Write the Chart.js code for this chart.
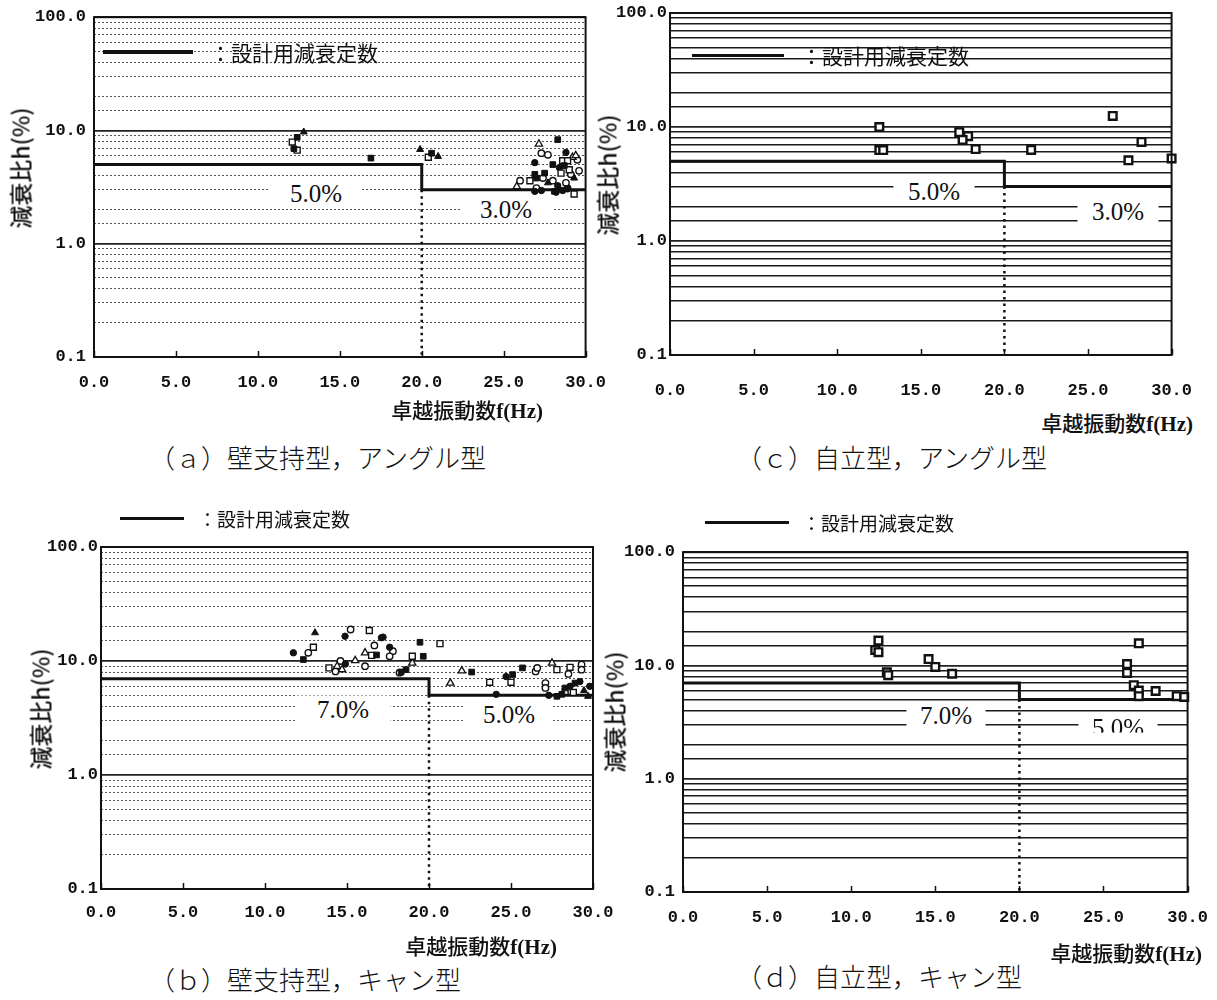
<!DOCTYPE html>
<html lang="ja">
<head>
<meta charset="utf-8">
<title>減衰比と卓越振動数</title>
<script src="https://cdn.jsdelivr.net/npm/chart.js@4.4.1/dist/chart.umd.min.js"></script>
<style>
  html, body { margin:0; padding:0; background:#fff; }
  #stage { position:relative; width:1217px; height:1000px; overflow:hidden; background:#fff; }
  #stage canvas { position:absolute; z-index:1; }
  .ov { position:absolute; z-index:2; white-space:nowrap; line-height:1; color:#111; }
  .pct { font-family:"Liberation Serif", serif; font-size:25px; background:#fff; text-align:center;
         transform:translate(-50%,-50%); padding:1px 0; }
  .ytitle { font-family:"Noto Sans CJK JP", sans-serif; font-size:23px; font-weight:500; transform:translate(-50%,-50%) rotate(-90deg); }
  .xtitle { font-family:"Noto Sans CJK JP", sans-serif; font-size:21px; font-weight:500; transform:translate(-100%,-50%); }
  .xtitle .en { font-family:"Liberation Serif", serif; font-weight:bold; }
  .cap { font-family:"Noto Sans CJK JP", sans-serif; font-size:26px; font-weight:300; transform:translateY(-50%); }
  .legtxt { font-family:"Noto Sans CJK JP", sans-serif; transform:translateY(-50%); }
  .legline { position:absolute; z-index:2; background:#111; }
</style>
</head>
<body>
<div id="stage"></div>
<script>
// ---- axis values ----
const HZ_TICKS = [0, 5, 10, 15, 20, 25, 30];
const DAMP_DECADES = [0.1, 1, 10, 100];
const SPLIT_HZ = 20;

// design damping constants (%) below / above SPLIT_HZ
const designAngle = [5.0, 3.0];
const designCan = [7.0, 5.0];

// ---- (a) wall-supported, angle type : [frequency Hz, damping %] ----
const aSqFill = [[12.4, 8.7], [12.2, 6.9], [16.9, 5.7], [20.6, 6.3], [28.3, 8.3], [28.0, 5.0], [26.9, 4.1],
                 [27.5, 4.2], [27.0, 3.8], [28.7, 4.9], [28.1, 2.9]];
const aSqOpen = [[12.1, 7.9], [12.4, 6.7], [20.4, 5.8], [28.6, 5.4], [28.9, 5.4], [26.6, 3.6], [28.5, 4.2],
                 [29.0, 4.5], [29.3, 2.75]];
const aTriFill = [[12.8, 9.7], [19.9, 6.8], [21.0, 5.9], [27.7, 3.45], [29.3, 3.8], [28.4, 3.0]];
const aTriOpen = [[27.15, 7.6], [29.2, 5.8], [25.8, 3.2], [29.4, 6.0]];
const aDotFill = [[28.8, 6.4], [26.9, 5.2], [28.4, 4.7], [26.9, 2.9], [27.3, 2.95], [28.2, 2.85], [28.6, 2.95],
                  [28.9, 3.05], [28.3, 3.25]];
const aDotOpen = [[27.3, 6.3], [27.7, 6.1], [29.5, 5.5], [27.4, 3.8], [28.0, 3.6], [26.0, 3.6], [28.9, 3.1],
                  [27.0, 3.1], [28.8, 3.45], [29.1, 4.1], [29.6, 4.4]];

// ---- (b) wall-supported, can type ----
const bSqFill = [[12.34, 10.3], [16.8, 11.3], [18.6, 8.4], [18.3, 8.0], [19.45, 14.6], [19.65, 11.0], [22.6, 8.0],
                 [25.1, 7.6], [25.7, 8.7], [27.8, 4.9], [28.1, 5.1], [28.3, 5.8], [28.9, 6.4]];
const bSqOpen = [[16.36, 18.5], [12.95, 13.2], [16.5, 11.2], [13.9, 8.7], [18.98, 11.0], [20.67, 14.2], [23.7, 6.5],
                 [25.0, 6.5], [27.8, 8.4], [28.6, 8.8], [28.3, 5.4], [28.8, 5.3]];
const bTriFill = [[13.05, 17.7], [29.45, 5.5], [29.7, 4.9]];
const bTriOpen = [[16.1, 11.8], [14.4, 9.0], [14.7, 8.4], [15.5, 10.1], [18.98, 9.6], [21.3, 6.4], [22.0, 8.2],
                  [27.5, 9.6]];
const bDotFill = [[14.88, 16.5], [17.1, 16.0], [17.2, 16.2], [11.73, 11.8], [17.6, 13.2], [14.9, 9.4], [24.1, 5.1],
                  [24.7, 7.3], [28.6, 6.0], [29.2, 6.6], [29.8, 6.0], [27.3, 5.0]];
const bDotOpen = [[15.22, 18.9], [12.64, 11.8], [16.67, 13.7], [17.8, 12.2], [17.6, 11.0], [16.1, 9.0], [14.3, 8.1],
                  [14.6, 10.0], [18.2, 7.9], [26.5, 8.1], [26.6, 8.7], [29.3, 9.3], [29.3, 8.4], [28.5, 7.7],
                  [27.1, 6.4], [27.1, 5.8]];

// ---- (c) free-standing, angle type ----
const cSqOpen = [[12.52, 10.0], [12.52, 6.28], [12.75, 6.28], [17.3, 9.0], [17.83, 8.3], [17.5, 7.7], [18.28, 6.4],
                 [21.6, 6.3], [26.48, 12.5], [28.2, 7.4], [27.42, 5.1], [30.0, 5.3]];

// ---- (d) free-standing, can type ----
const dSqOpen = [[11.62, 16.6], [11.43, 13.7], [11.62, 13.1], [12.12, 8.7], [12.2, 8.2], [14.6, 11.4], [15.0, 9.7],
                 [16.0, 8.45], [27.1, 15.7], [26.4, 10.3], [26.4, 8.6], [26.8, 6.7], [27.1, 6.0], [27.1, 5.35],
                 [28.1, 5.95], [29.35, 5.35], [29.8, 5.27]];

// ---- marker looks ----
const INK = '#111';
const MARK = {
  sqFill:  { pointStyle: 'rect',     pointRadius: 4.0, pointBackgroundColor: INK,    pointBorderColor: INK, pointBorderWidth: 1 },
  sqOpen:  { pointStyle: 'rect',     pointRadius: 4.2, pointBackgroundColor: '#fff', pointBorderColor: INK, pointBorderWidth: 1.4 },
  triFill: { pointStyle: 'triangle', pointRadius: 4.0, pointBackgroundColor: INK,    pointBorderColor: INK, pointBorderWidth: 1 },
  triOpen: { pointStyle: 'triangle', pointRadius: 4.2, pointBackgroundColor: '#fff', pointBorderColor: INK, pointBorderWidth: 1.3 },
  dotFill: { pointStyle: 'circle',   pointRadius: 3.2, pointBackgroundColor: INK,    pointBorderColor: INK, pointBorderWidth: 1 },
  dotOpen: { pointStyle: 'circle',   pointRadius: 3.2, pointBackgroundColor: '#fff', pointBorderColor: INK, pointBorderWidth: 1.4 },
  bigSq:   { pointStyle: 'rect',     pointRadius: 5.4, pointBackgroundColor: '#fff', pointBorderColor: INK, pointBorderWidth: 2.4 }
};

// ---- panel frames (plot-area pixels) ----
const panels = [
  { L: 94,  T: 15,  R: 586,  B: 357, levels: designAngle, gridStyle: 'dotted', yPad: 8, xPad: 16,
    groups: [['sqFill', aSqFill], ['sqOpen', aSqOpen], ['triFill', aTriFill], ['triOpen', aTriOpen], ['dotFill', aDotFill], ['dotOpen', aDotOpen]] },
  { L: 670, T: 13,  R: 1182, B: 355, levels: designAngle, gridStyle: 'solid', yPad: 3, xPad: 26,
    groups: [['bigSq', cSqOpen]] },
  { L: 101, T: 547, R: 593,  B: 889, levels: designCan, gridStyle: 'dotted', yPad: 3, xPad: 14,
    groups: [['sqFill', bSqFill], ['sqOpen', bSqOpen], ['triFill', bTriFill], ['triOpen', bTriOpen], ['dotFill', bDotFill], ['dotOpen', bDotOpen]] },
  { L: 683, T: 550, R: 1188, B: 892, levels: designCan, gridStyle: 'solid', yPad: 8, xPad: 16,
    groups: [['bigSq', dSqOpen]] }
];

const stage = document.getElementById('stage');
const isDecade = v => DAMP_DECADES.some(d => Math.abs(Math.log10(v) - Math.log10(d)) < 1e-6);
const TICK_FONT = { family: 'Liberation Mono', size: 17, weight: 'bold' };

// plot border and small inward tick marks on the frequency axis
const framePlugin = {
  id: 'frame',
  afterDraw(chart) {
    const { ctx, chartArea: a } = chart;
    const x = chart.scales.x;
    ctx.save();
    ctx.strokeStyle = INK;
    ctx.lineWidth = 2;
    ctx.strokeRect(a.left, a.top, a.right - a.left, a.bottom - a.top);
    ctx.lineWidth = 1.5;
    HZ_TICKS.forEach(v => {
      const px = Math.round(x.getPixelForValue(v)) + 0.5;
      ctx.beginPath();
      ctx.moveTo(px, a.bottom);
      ctx.lineTo(px, a.bottom - 6);
      ctx.stroke();
    });
    ctx.restore();
  }
};

function buildPanel(p) {
  const padL = 80, padT = 16, padR = 36, padB = 50;
  const w = p.R - p.L + padL + padR;
  const h = p.B - p.T + padT + padB;
  const cv = document.createElement('canvas');
  cv.width = w; cv.height = h;
  cv.style.left = (p.L - padL) + 'px';
  cv.style.top = (p.T - padT) + 'px';
  cv.style.width = w + 'px';
  cv.style.height = h + 'px';
  stage.appendChild(cv);

  const dotted = p.gridStyle === 'dotted';
  const xMin = HZ_TICKS[0], xMax = HZ_TICKS[HZ_TICKS.length - 1];
  const yMin = DAMP_DECADES[0], yMax = DAMP_DECADES[DAMP_DECADES.length - 1];
  const [lo, hi] = p.levels;

  const datasets = p.groups.map(([kind, pts]) => Object.assign({
    data: pts.map(([f, d]) => ({ x: f, y: d })),
    showLine: false,
    clip: false,
    order: 1
  }, MARK[kind]));

  // design damping step line
  datasets.push({
    type: 'line',
    data: [{ x: xMin, y: lo }, { x: SPLIT_HZ, y: lo }, { x: SPLIT_HZ, y: hi }, { x: xMax, y: hi }],
    borderColor: INK, borderWidth: 3, pointRadius: 0, fill: false, tension: 0,
    borderJoinStyle: 'miter', order: 2
  });
  // dotted boundary at the split frequency
  datasets.push({
    type: 'line',
    data: [{ x: SPLIT_HZ, y: hi }, { x: SPLIT_HZ, y: yMin }],
    borderColor: INK, borderWidth: 2.5, borderDash: [2.5, 4], pointRadius: 0, fill: false,
    order: 2
  });

  new Chart(cv, {
    type: 'scatter',
    data: { datasets },
    options: {
      responsive: false,
      devicePixelRatio: 1,
      animation: false,
      events: [],
      layout: { padding: { top: padT, right: padR, left: 0, bottom: 0 } },
      plugins: { legend: { display: false }, tooltip: { enabled: false } },
      scales: {
        x: {
          type: 'linear', min: xMin, max: xMax,
          afterFit: s => { s.height = padB; },
          grid: { display: false, drawTicks: false },
          border: { display: false },
          ticks: {
            stepSize: 5, autoSkip: false, maxRotation: 0, padding: p.xPad, color: INK,
            font: TICK_FONT,
            callback: v => Number(v).toFixed(1)
          }
        },
        y: {
          type: 'logarithmic', min: yMin, max: yMax,
          afterFit: s => { s.width = padL; },
          grid: {
            drawTicks: false,
            color: c => isDecade(c.tick.value) ? '#222' : (dotted ? '#555' : '#1a1a1a'),
            lineWidth: c => isDecade(c.tick.value) ? 1.8 : (dotted ? 1 : 1.6)
          },
          border: { display: false, dash: c => (dotted && !isDecade(c.tick.value)) ? [2, 2] : [] },
          ticks: {
            autoSkip: false, padding: p.yPad, color: INK,
            font: TICK_FONT,
            callback: v => isDecade(v) ? Number(v).toFixed(1) : ''
          }
        }
      }
    },
    plugins: [framePlugin]
  });
}

panels.forEach(buildPanel);

// ---- text and legend overlays ----
function put(cls, html, x, y, extra) {
  const d = document.createElement('div');
  d.className = 'ov ' + cls;
  d.innerHTML = html;
  d.style.left = x + 'px';
  d.style.top = y + 'px';
  if (extra) Object.assign(d.style, extra);
  stage.appendChild(d);
  return d;
}
function legendLine(x, y, w, h) {
  const d = document.createElement('div');
  d.className = 'legline';
  Object.assign(d.style, { left: x + 'px', top: (y - h / 2) + 'px', width: w + 'px', height: h + 'px' });
  stage.appendChild(d);
}
const pct = v => v.toFixed(1) + '%';
const LEGEND_TEXT = '：設計用減衰定数';
const YTITLE = '減衰比h(%)';
const XTITLE = '卓越振動数<span class="en">f(Hz)</span>';

// (a)
legendLine(103, 52, 90, 4);
put('legtxt', LEGEND_TEXT, 210, 52, { fontSize: '21px' });
put('pct', pct(designAngle[0]), 316, 193, { width: '92px' });
put('pct', pct(designAngle[1]), 506, 209, { width: '92px' });
put('ytitle', YTITLE, 20, 168);
put('xtitle', XTITLE, 543, 410);
put('cap', '（ａ）壁支持型，アングル型', 149, 457);

// (c)
legendLine(692, 55, 92, 3);
put('legtxt', LEGEND_TEXT, 801, 55, { fontSize: '21px' });
put('pct', pct(designAngle[0]), 934, 191, { width: '81px' });
put('pct', pct(designAngle[1]), 1118, 211, { width: '81px' });
put('ytitle', YTITLE, 607, 175);
put('xtitle', XTITLE, 1193, 423);
put('cap', '（ｃ）自立型，アングル型', 736, 457);

// (b)
legendLine(120, 518, 64, 3);
put('legtxt', LEGEND_TEXT, 198, 518, { fontSize: '19px' });
put('pct', pct(designCan[0]), 343, 709, { width: '95px' });
put('pct', pct(designCan[1]), 509, 714, { width: '88px' });
put('ytitle', YTITLE, 40, 709);
put('xtitle', XTITLE, 557, 946);
put('cap', '（ｂ）壁支持型，キャン型', 149, 979);

// (d)
legendLine(705, 522, 84, 3);
put('legtxt', LEGEND_TEXT, 802, 522, { fontSize: '19px' });
put('pct', pct(designCan[0]), 946, 715, { width: '79px' });
put('pct', pct(designCan[1]), 1118, 725, { width: '79px', height: '17px', overflow: 'hidden', transform: 'translate(-50%,-60%)' });
put('ytitle', YTITLE, 614, 712);
put('xtitle', XTITLE, 1202, 953);
put('cap', '（ｄ）自立型，キャン型', 736, 976);
</script>
</body>
</html>
